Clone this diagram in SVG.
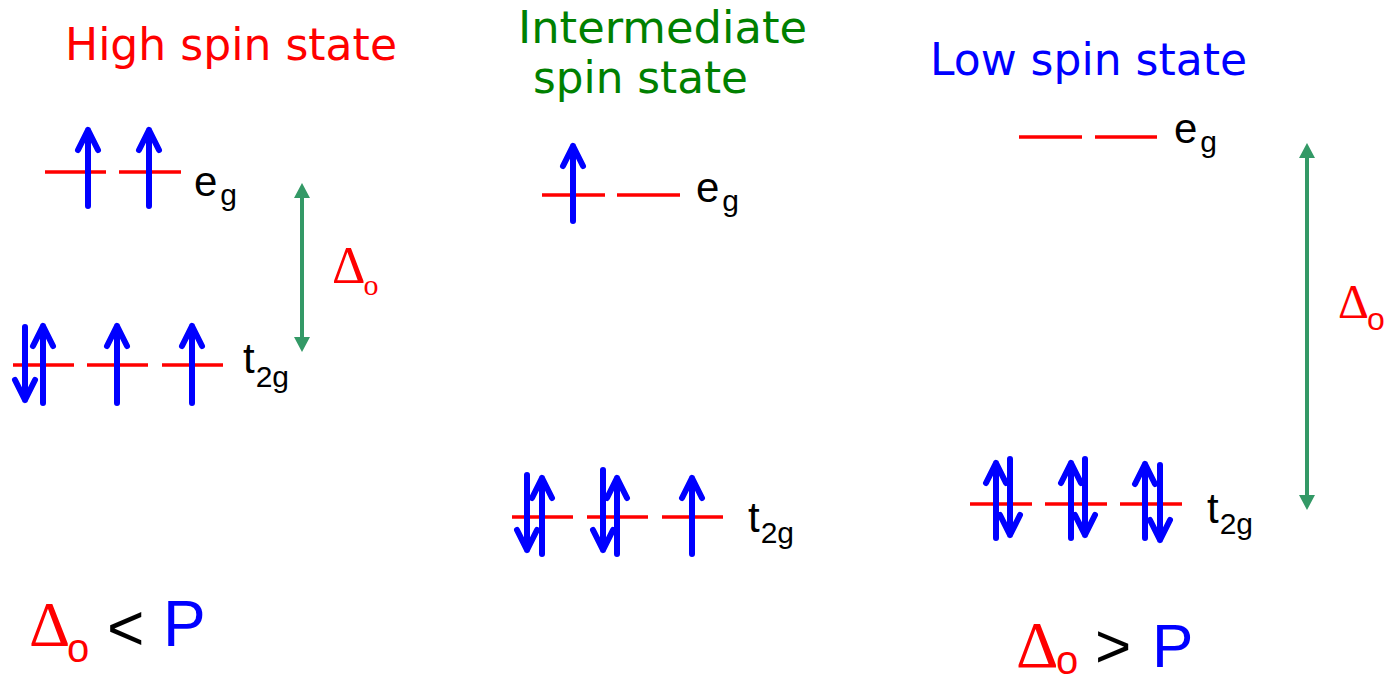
<svg xmlns="http://www.w3.org/2000/svg" width="1391" height="680" viewBox="0 0 1391 680">
<style>
.lvl{stroke:#FF0000;stroke-width:3.5;fill:none}
.e{stroke:#0000FF;stroke-width:6;fill:none;stroke-linecap:round;stroke-linejoin:round}
.gap{stroke:#339966;stroke-width:4;fill:none}
.title{font-family:"DejaVu Sans","Liberation Sans",sans-serif;font-size:44px}
.lab{font-family:"Liberation Sans",Arial,sans-serif;font-size:42px;fill:#000}
.sub{font-size:30px}
.dl{font-family:"Liberation Serif","Times New Roman",serif;fill:#FF0000}
.sans{font-family:"Liberation Sans",Arial,sans-serif}
</style>
<defs>
<marker id="ah" markerUnits="userSpaceOnUse" markerWidth="16" markerHeight="16" refX="0" refY="8" orient="auto-start-reverse" viewBox="0 0 16 16">
<path d="M0,0 L15,8 L0,16 z" fill="#339966"/>
</marker>
</defs>
<rect width="1391" height="680" fill="#FFFFFF"/>

<g id="high-spin">
<text class="title" x="65" y="60" fill="#FF0000" textLength="332" lengthAdjust="spacingAndGlyphs">High spin state</text>
<g id="high-eg">
<path class="lvl" d="M45,172 H106 M119,172 H181"/>
<path class="e" d="M88,206 V130 M78,150 L88,130 L98,150"/>
<path class="e" d="M149,206 V130 M139,150 L149,130 L159,150"/>
<text class="lab" x="194" y="196">e<tspan class="sub" dx="3" dy="9">g</tspan></text>
</g>
<g id="high-t2g">
<path class="lvl" d="M13,365 H74 M87,365 H148 M162,365 H223"/>
<path class="e" d="M25,327 V400 M15,380 L25,400 L35,380"/>
<path class="e" d="M43,403 V326 M33,346 L43,326 L53,346"/>
<path class="e" d="M117,403 V326 M107,346 L117,326 L127,346"/>
<path class="e" d="M192,403 V326 M182,346 L192,326 L202,346"/>
<text class="lab" x="243" y="373">t<tspan class="sub" dx="1" dy="14">2g</tspan></text>
</g>
<text class="dl" x="332" y="283" font-size="52">Δ<tspan font-size="30" dx="-2" dy="12">o</tspan></text>
<text x="29" y="646" font-size="64"><tspan class="dl" font-size="64">Δ</tspan><tspan class="sans" fill="#FF0000" font-size="40" x="67" y="662">o</tspan><tspan class="sans" fill="#000000" x="107" y="650">&lt;</tspan><tspan class="sans" fill="#0000FF" x="163" y="646">P</tspan></text>
</g>

<g id="intermediate-spin">
<text class="title" x="518" y="43" fill="#008000" textLength="289" lengthAdjust="spacingAndGlyphs">Intermediate</text>
<text class="title" x="533" y="93" fill="#008000" textLength="215" lengthAdjust="spacingAndGlyphs">spin state</text>
<g id="int-eg">
<path class="lvl" d="M542,195 H605 M617,195 H680"/>
<path class="e" d="M573,221 V146 M563,166 L573,146 L583,166"/>
<text class="lab" x="696" y="202">e<tspan class="sub" dx="3" dy="9">g</tspan></text>
</g>
<g id="int-t2g">
<path class="lvl" d="M512,517 H573 M587,517 H648 M662,517 H723"/>
<path class="e" d="M527,475 V550 M517,530 L527,550 L537,530"/>
<path class="e" d="M542,554 V478 M532,498 L542,478 L552,498"/>
<path class="e" d="M603,470 V550 M593,530 L603,550 L613,530"/>
<path class="e" d="M617,554 V478 M607,498 L617,478 L627,498"/>
<path class="e" d="M692,554 V478 M682,498 L692,478 L702,498"/>
<text class="lab" x="748" y="532">t<tspan class="sub" dx="1" dy="11">2g</tspan></text>
</g>
</g>

<g id="low-spin">
<text class="title" x="930" y="75" fill="#0000FF" textLength="317" lengthAdjust="spacingAndGlyphs">Low spin state</text>
<g id="low-eg">
<path class="lvl" d="M1019,137 H1082 M1095,137 H1157"/>
<text class="lab" x="1174" y="143">e<tspan class="sub" dx="3" dy="9">g</tspan></text>
</g>
<g id="low-t2g">
<path class="lvl" d="M970,504 H1032 M1045,504 H1107 M1120,504 H1182"/>
<path class="e" d="M996,538 V463 M986,483 L996,463 L1006,483"/>
<path class="e" d="M1010,459 V535 M1000,515 L1010,535 L1020,515"/>
<path class="e" d="M1071,538 V463 M1061,483 L1071,463 L1081,483"/>
<path class="e" d="M1085,459 V535 M1075,515 L1085,535 L1095,515"/>
<path class="e" d="M1145,538 V464 M1135,484 L1145,464 L1155,484"/>
<path class="e" d="M1160,465 V540 M1150,520 L1160,540 L1170,520"/>
<text class="lab" x="1207" y="523">t<tspan class="sub" dx="1" dy="11">2g</tspan></text>
</g>
<text class="dl" x="1338" y="318" font-size="48">Δ<tspan class="sans" font-size="32" dx="-2" dy="12">o</tspan></text>
<text x="1016" y="667" font-size="62"><tspan class="dl" font-size="66">Δ</tspan><tspan class="sans" fill="#FF0000" font-size="40" x="1056" y="674">o</tspan><tspan class="sans" fill="#000000" x="1095" y="667">&gt;</tspan><tspan class="sans" fill="#0000FF" x="1152" y="667">P</tspan></text>
</g>

<g id="connectors">
<line class="gap" x1="302" y1="198" x2="302" y2="337" marker-start="url(#ah)" marker-end="url(#ah)"/>
<line class="gap" x1="1307" y1="158" x2="1307" y2="495" marker-start="url(#ah)" marker-end="url(#ah)"/>
</g>
</svg>
